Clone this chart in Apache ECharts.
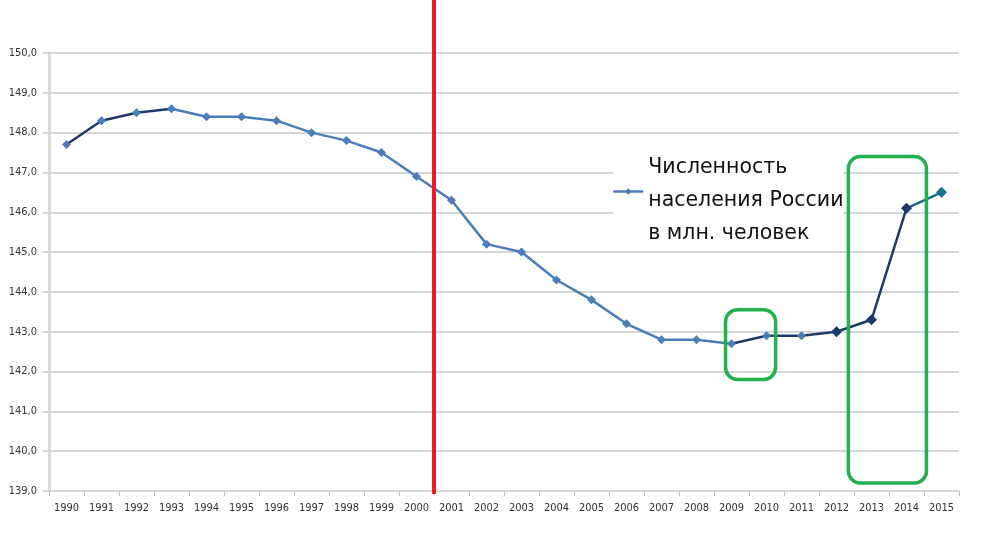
<!DOCTYPE html>
<html>
<head>
<meta charset="utf-8">
<script src="https://cdn.jsdelivr.net/npm/echarts@6/dist/echarts.min.js"></script>
<style>
  html, body { margin: 0; padding: 0; background: #fff; }
  #chart { width: 1004px; height: 556px; }
</style>
</head>
<body>
<div id="chart"></div>
<script>
const years = ['1990', '1991', '1992', '1993', '1994', '1995', '1996', '1997', '1998', '1999',
  '2000', '2001', '2002', '2003', '2004', '2005', '2006', '2007', '2008', '2009',
  '2010', '2011', '2012', '2013', '2014', '2015'];
const population = [147.7, 148.3, 148.5, 148.6, 148.4, 148.4, 148.3, 148.0, 147.8, 147.5,
  146.9, 146.3, 145.2, 145.0, 144.3, 143.8, 143.2, 142.8, 142.8, 142.7,
  142.9, 142.9, 143.0, 143.3, 146.1, 146.5];
const seriesName = 'Численность\nнаселения России\nв млн. человек';

// annotation boxes: [fromIndex, toIndex, topValue, bottomValue]
const boxes = [
  [18.83, 20.26, 143.55, 141.8],
  [22.34, 24.57, 147.4, 139.2]
];

const chart = echarts.init(document.getElementById('chart'));

const option = {
  animation: false,
  grid: { left: 49, right: 45, top: 53, bottom: 65 },
  xAxis: {
    type: 'category',
    data: years,
    boundaryGap: true,
    axisLine: { lineStyle: { color: '#d9d9d9', width: 2 } },
    axisTick: { show: true, length: 5, lineStyle: { color: '#bfbfbf' } },
    axisLabel: { interval: 0, fontSize: 11, color: '#333', margin: 12, fontFamily: 'DejaVu Sans Condensed' }
  },
  yAxis: {
    type: 'value',
    min: 139,
    max: 150,
    interval: 1,
    axisLine: { show: true, lineStyle: { color: '#d9d9d9', width: 3 } },
    axisTick: { show: true, length: 6, lineStyle: { color: '#c8c8c8', width: 1.5 } },
    axisLabel: {
      fontSize: 11, color: '#333', margin: 12, fontFamily: 'DejaVu Sans Condensed',
      formatter: v => v.toFixed(1).replace('.', ',')
    },
    splitLine: { lineStyle: { color: '#c8c8c8', width: 1.5 } }
  },
  legend: {
    left: 612,
    top: 137,
    orient: 'vertical',
    itemWidth: 30,
    itemHeight: 8,
    padding: 0,
    formatter: name => '{g| }\n' + name.split('\n').map(s => '{t|' + s + '}').join('\n'),
    textStyle: {
      color: '#111', fontFamily: 'DejaVu Sans',
      rich: {
        g: { fontSize: 10, lineHeight: 18 },
        t: { fontSize: 20.5, lineHeight: 33, color: '#111', fontFamily: 'DejaVu Sans' }
      }
    },
    data: [{ name: seriesName, itemStyle: { color: '#4a7ebb' }, lineStyle: { color: '#4a7ebb', width: 2.5 } }]
  },
  visualMap: {
    show: false,
    type: 'piecewise',
    dimension: 0,
    seriesIndex: 0,
    pieces: [
      { gte: 0, lte: 3, color: '#1f3a68' },
      { gt: 3, lt: 19, color: '#4a7ebb' },
      { gte: 19, lte: 24, color: '#1f3a68' },
      { gt: 24, lte: 25, color: '#1a6e8e' }
    ]
  },
  series: [{
    name: seriesName,
    type: 'line',
    data: population.map((v, i) => (i < 22 ? { value: v, itemStyle: { color: '#4a7ebb' } } : v)),
    symbol: 'diamond',
    symbolSize: (v, p) => (p.dataIndex >= 22 ? 11 : 9),
    lineStyle: { width: 2.5 }
  }]
};

chart.setOption(option);

function annotate() {
  const bottomPx = chart.convertToPixel({ yAxisIndex: 0 }, 139);
  const xa = chart.convertToPixel({ xAxisIndex: 0 }, years[10]);
  const xb = chart.convertToPixel({ xAxisIndex: 0 }, years[11]);
  const step = xb - xa;
  const x0 = chart.convertToPixel({ xAxisIndex: 0 }, years[0]);
  const elements = [
    // white backing behind the legend text
    {
      type: 'rect',
      shape: { x: 613, y: 150, width: 230, height: 94 },
      style: { fill: '#ffffff' },
      z: 1
    },
    {
      type: 'line',
      shape: { x1: (xa + xb) / 2, y1: 0, x2: (xa + xb) / 2, y2: bottomPx + 3 },
      style: { stroke: '#ed1c24', lineWidth: 4 },
      z: 100
    }
  ];
  boxes.forEach(b => {
    const left = x0 + b[0] * step;
    const right = x0 + b[1] * step;
    const top = chart.convertToPixel({ yAxisIndex: 0 }, b[2]);
    const bottom = chart.convertToPixel({ yAxisIndex: 0 }, b[3]);
    elements.push({
      type: 'rect',
      shape: { x: left, y: top, width: right - left, height: bottom - top, r: 12 },
      style: { fill: 'none', stroke: '#22b14c', lineWidth: 3.5 },
      z: 100
    });
  });
  chart.setOption({ graphic: elements });
}
annotate();
</script>
</body>
</html>
